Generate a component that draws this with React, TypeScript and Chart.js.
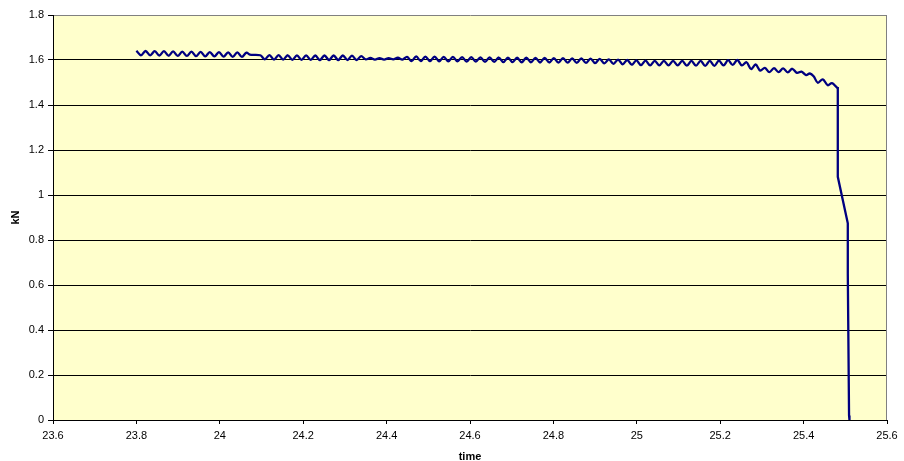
import React, { useEffect, useRef } from "react";
import { Chart, registerables } from "chart.js";

Chart.register(...registerables);

// Load curve: oscillating plateau (time, kN)
const waveTime = [
  23.800, 23.811, 23.822, 23.833, 23.844, 23.855, 23.866, 23.877, 23.888, 23.899,
  23.910, 23.921, 23.932, 23.943, 23.954, 23.965, 23.976, 23.987, 23.998, 24.009,
  24.020, 24.031, 24.042, 24.053, 24.064, 24.072, 24.097, 24.108, 24.119, 24.130,
  24.141, 24.152, 24.163, 24.174, 24.185, 24.196, 24.207, 24.218, 24.229, 24.240,
  24.251, 24.262, 24.273, 24.284, 24.295, 24.306, 24.317, 24.328, 24.339, 24.350,
  24.361, 24.372, 24.383, 24.394, 24.405, 24.416, 24.427, 24.438, 24.449, 24.460,
  24.471, 24.482, 24.493, 24.504, 24.515, 24.526, 24.537, 24.548, 24.559, 24.570,
  24.581, 24.592, 24.603, 24.614, 24.625, 24.636, 24.647, 24.658, 24.669, 24.680,
  24.691, 24.702, 24.713, 24.724, 24.735, 24.746, 24.757, 24.768, 24.779, 24.790,
  24.801, 24.812, 24.823, 24.834, 24.845, 24.856, 24.867, 24.878, 24.889, 24.900,
  24.911, 24.922, 24.933, 24.944, 24.955, 24.966, 24.977, 24.988, 24.999, 25.010,
  25.021, 25.032, 25.043, 25.054, 25.065, 25.076, 25.087, 25.098, 25.109, 25.120,
  25.131, 25.142, 25.153, 25.164, 25.175, 25.186, 25.197, 25.208, 25.219, 25.230,
  25.241, 25.252, 25.263, 25.274, 25.285, 25.296, 25.307, 25.318, 25.329, 25.340,
  25.351, 25.362, 25.373, 25.384, 25.395, 25.406, 25.415, 25.424, 25.434, 25.446,
  25.458, 25.468, 25.480, 25.482,
];
const waveKN = [
  1.641, 1.621, 1.640, 1.621, 1.639, 1.620, 1.639, 1.619, 1.638, 1.618,
  1.637, 1.618, 1.637, 1.617, 1.636, 1.616, 1.635, 1.616, 1.635, 1.615,
  1.634, 1.614, 1.634, 1.614, 1.633, 1.624, 1.621, 1.603, 1.622, 1.602,
  1.622, 1.602, 1.621, 1.601, 1.621, 1.601, 1.621, 1.601, 1.620, 1.600,
  1.620, 1.600, 1.620, 1.600, 1.620, 1.600, 1.619, 1.600, 1.617, 1.603,
  1.609, 1.602, 1.608, 1.602, 1.608, 1.603, 1.610, 1.602, 1.614, 1.595,
  1.616, 1.595, 1.615, 1.595, 1.615, 1.594, 1.614, 1.594, 1.614, 1.594,
  1.613, 1.593, 1.613, 1.593, 1.612, 1.592, 1.612, 1.592, 1.611, 1.591,
  1.611, 1.591, 1.610, 1.590, 1.610, 1.590, 1.609, 1.589, 1.609, 1.589,
  1.608, 1.588, 1.608, 1.588, 1.607, 1.587, 1.607, 1.587, 1.606, 1.586,
  1.605, 1.585, 1.603, 1.583, 1.602, 1.581, 1.600, 1.579, 1.598, 1.577,
  1.597, 1.576, 1.596, 1.576, 1.596, 1.576, 1.596, 1.576, 1.596, 1.575,
  1.596, 1.575, 1.596, 1.574, 1.596, 1.574, 1.597, 1.576, 1.599, 1.578,
  1.600, 1.576, 1.590, 1.560, 1.580, 1.553, 1.565, 1.546, 1.564, 1.546,
  1.563, 1.545, 1.561, 1.543, 1.548, 1.533, 1.540, 1.528, 1.499, 1.514,
  1.488, 1.497, 1.478, 1.480,
];

// Final failure drop (time, kN)
const dropTime = [25.482, 25.482, 25.482, 25.506, 25.506, 25.507, 25.509, 25.510];
const dropKN = [1.480, 1.275, 1.081, 0.874, 0.650, 0.440, 0.020, 0.000];

const xMin = 23.6;
const xMax = 25.6;
const xStep = 0.2;
const yMin = 0;
const yMax = 1.8;
const yStep = 0.2;
const xTitle = "time";
const yTitle = "kN";

const FONT = "'Liberation Sans', Arial, sans-serif";

export default function App() {
  const ref = useRef<HTMLCanvasElement>(null);

  useEffect(() => {
    document.body.style.margin = "0";
    const canvas = ref.current;
    if (!canvas) return;

    const plotBg = {
      id: "plotBg",
      beforeDraw(chart: any) {
        const { ctx, chartArea: a } = chart;
        ctx.save();
        ctx.fillStyle = "#FFFFCC";
        ctx.fillRect(a.left, a.top, a.right - a.left, a.bottom - a.top);
        ctx.restore();
      },
      beforeDatasetsDraw(chart: any) {
        const { ctx, chartArea: a } = chart;
        ctx.save();
        ctx.strokeStyle = "#808080";
        ctx.lineWidth = 1;
        const r = Math.round(a.right) - 0.5;
        ctx.beginPath();
        ctx.moveTo(r, Math.round(a.top));
        ctx.lineTo(r, Math.round(a.bottom));
        ctx.stroke();
        ctx.restore();
      },
    };

    const fmt = (v: any) => String(Math.round(Number(v) * 10) / 10);

    const chart = new Chart(canvas, {
      type: "line",
      data: {
        datasets: [
          {
            data: waveTime.map((t, i) => ({ x: t, y: waveKN[i] })),
            borderColor: "#000080",
            borderWidth: 2.3,
            pointRadius: 0,
            tension: 0.35,
            fill: false,
          },
          {
            data: dropTime.map((t, i) => ({ x: t, y: dropKN[i] })),
            borderColor: "#000080",
            borderWidth: 2.3,
            pointRadius: 0,
            tension: 0,
            fill: false,
          },
        ],
      },
      options: {
        animation: false,
        responsive: false,
        devicePixelRatio: 1,
        layout: { padding: { top: 15, right: 17, left: 0, bottom: 0 } },
        plugins: {
          legend: { display: false },
          tooltip: { enabled: false },
        },
        scales: {
          x: {
            type: "linear",
            min: xMin,
            max: xMax,
            afterFit: (s: any) => {
              s.height = 41;
            },
            ticks: {
              stepSize: xStep,
              autoSkip: false,
              maxRotation: 0,
              padding: 5,
              color: "#000",
              font: { family: FONT, size: 11 },
              callback: fmt,
            },
            grid: {
              drawOnChartArea: false,
              drawTicks: true,
              tickLength: 4,
              color: "#000",
            },
            border: { color: "#000", width: 1 },
            title: {
              display: true,
              text: xTitle,
              color: "#000",
              font: { family: FONT, size: 11, weight: "bold", lineHeight: 0.6 },
              padding: { top: 0, bottom: 1 },
            },
          },
          y: {
            type: "linear",
            min: yMin,
            max: yMax,
            afterFit: (s: any) => {
              s.width = 53;
            },
            ticks: {
              stepSize: yStep,
              padding: 4,
              color: "#000",
              font: { family: FONT, size: 11 },
              callback: fmt,
            },
            grid: {
              color: (c: any) =>
                c.tick && Math.abs(c.tick.value - yMax) < 1e-6 ? "#808080" : "#000",
              tickColor: "#000",
              tickLength: 5,
              lineWidth: 1,
            },
            border: { color: "#000", width: 1 },
            title: {
              display: true,
              text: yTitle,
              color: "#000",
              font: { family: FONT, size: 11, weight: "bold" },
              padding: { top: 9, bottom: 0 },
            },
          },
        },
      },
      plugins: [plotBg],
    } as any);

    return () => chart.destroy();
  }, []);

  return (
    <div style={{ width: 904, height: 461, background: "#fff" }}>
      <canvas ref={ref} width={904} height={461} style={{ display: "block" }} />
    </div>
  );
}
